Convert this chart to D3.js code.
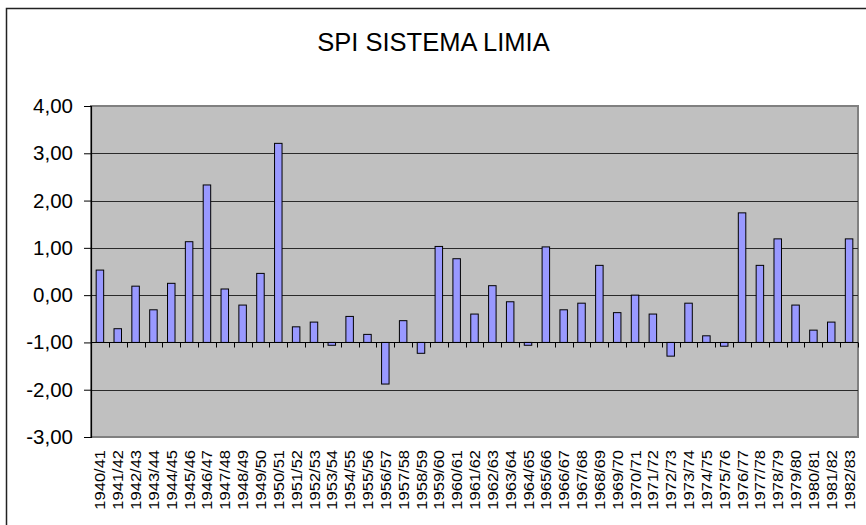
<!DOCTYPE html>
<meta charset="utf-8">
<style>
  body { margin: 0; background: #fff; }
  text { font-family: "Liberation Sans", Arial, sans-serif; fill: #000; }
</style>
<script src="https://d3js.org/d3.v7.min.js"></script>
<div id="chart"></div>
<script>
  // hydrological years
  var years = ["1940/41","1941/42","1942/43","1943/44","1944/45","1945/46","1946/47","1947/48","1948/49","1949/50",
               "1950/51","1951/52","1952/53","1953/54","1954/55","1955/56","1956/57","1957/58","1958/59","1959/60",
               "1960/61","1961/62","1962/63","1963/64","1964/65","1965/66","1966/67","1967/68","1968/69","1969/70",
               "1970/71","1971/72","1972/73","1973/74","1974/75","1975/76","1976/77","1977/78","1978/79","1979/80",
               "1980/81","1981/82","1982/83"]
  // SPI values
  var spi = [0.53, -0.71, 0.19, -0.31, 0.25, 1.13, 2.33, 0.13, -0.21, 0.46,
             3.21, -0.67, -0.57, -1.06, -0.45, -0.83, -1.88, -0.54, -1.23, 1.03,
             0.77, -0.40, 0.20, -0.14, -1.06, 1.02, -0.31, -0.17, 0.63, -0.37,
             0.00, -0.40, -1.29, -0.17, -0.86, -1.08, 1.74, 0.63, 1.19, -0.21,
             -0.74, -0.57, 1.19]
  var yTicks = [4, 3, 2, 1, 0, -1, -2, -3]
  var baseValue = -1   // category axis crosses here

  var width = 866, height = 525
  var plot = {left: 91, right: 858, top: 106, bottom: 437}

  var svg = d3.select("#chart").append("svg")
      .attr("width", width)
      .attr("height", height)

  // outer chart frame
  svg.append("rect")
    .attr("x", 6.5).attr("y", 8.5)
    .attr("width", 870).attr("height", 530)
    .attr("fill", "white")
    .attr("stroke", "#222")
    .attr("stroke-width", 1.5)

  // title
  svg.append("text")
    .attr("x", width / 2 + 0.5)
    .attr("y", 51)
    .attr("text-anchor", "middle")
    .style("font-size", "25.5px")
    .text("SPI SISTEMA LIMIA")

  var x = d3.scaleBand()
    .domain(years)
    .range([plot.left, plot.right])
    .padding(0)

  var y = d3.scaleLinear()
    .domain([-3, 4])
    .range([plot.bottom, plot.top])

  // plot background
  svg.append("rect")
    .attr("x", plot.left).attr("y", plot.top)
    .attr("width", plot.right - plot.left).attr("height", plot.bottom - plot.top)
    .attr("fill", "#c0c0c0")
    .attr("stroke", "#808080")
    .attr("stroke-width", 2)

  // gridlines
  svg.selectAll(".grid")
    .data(yTicks.filter(function(d) { return d != 4 && d != -3 && d != baseValue }))
    .enter().append("line")
      .attr("x1", plot.left).attr("x2", plot.right)
      .attr("y1", function(d) { return Math.round(y(d)) + 0.5 })
      .attr("y2", function(d) { return Math.round(y(d)) + 0.5 })
      .attr("stroke", "#2a2a2a")

  // bars from the -1 baseline
  var bw = x.bandwidth() * 0.42
  svg.selectAll(".bar")
    .data(spi)
    .enter().append("rect")
      .attr("x", function(d, i) { return x(years[i]) + (x.bandwidth() - bw) / 2 })
      .attr("y", function(d) { return y(Math.max(d, baseValue)) })
      .attr("width", bw)
      .attr("height", function(d) { return Math.abs(y(d) - y(baseValue)) })
      .attr("fill", "#9999ff")
      .attr("stroke", "#000")
      .attr("stroke-width", 1)

  // value axis
  var yAxis = svg.append("g")
    .attr("transform", "translate(" + plot.left + ",0)")
    .call(d3.axisLeft(y).tickValues(yTicks).tickSize(7).tickPadding(11)
      .tickFormat(function(d) { return d3.format(".2f")(d).replace(".", ",").replace("−", "-") }))
  yAxis.select(".domain").attr("stroke", "#000").attr("stroke-width", 1.2)
  yAxis.selectAll(".tick line").attr("stroke", "#000")
  yAxis.selectAll(".tick text")
    .style("font-size", "20.5px")
    .attr("font-family", null)
    .attr("fill", "#000")

  // category axis at -1
  var yb = Math.round(y(baseValue)) + 0.5
  svg.append("line")
    .attr("x1", plot.left).attr("x2", plot.right)
    .attr("y1", yb).attr("y2", yb)
    .attr("stroke", "#000").attr("stroke-width", 1.2)
  svg.selectAll(".ctick")
    .data(d3.range(1, years.length + 1))
    .enter().append("line")
      .attr("x1", function(k) { return Math.round(plot.left + k * x.step()) + 0.5 })
      .attr("x2", function(k) { return Math.round(plot.left + k * x.step()) + 0.5 })
      .attr("y1", yb).attr("y2", yb + 5)
      .attr("stroke", "#000")

  // category labels at the bottom, rotated (source image is stretched vertically)
  svg.selectAll(".clabel")
    .data(years)
    .enter().append("text")
      .attr("transform", function(d) {
        return "translate(" + (x(d) + x.bandwidth() / 2 + 0.5) + "," + 450 + ") rotate(-90) scale(1.18,1)"
      })
      .attr("dy", "0.36em")
      .attr("text-anchor", "end")
      .style("font-size", "14px")
      .text(function(d) { return d })
</script>
